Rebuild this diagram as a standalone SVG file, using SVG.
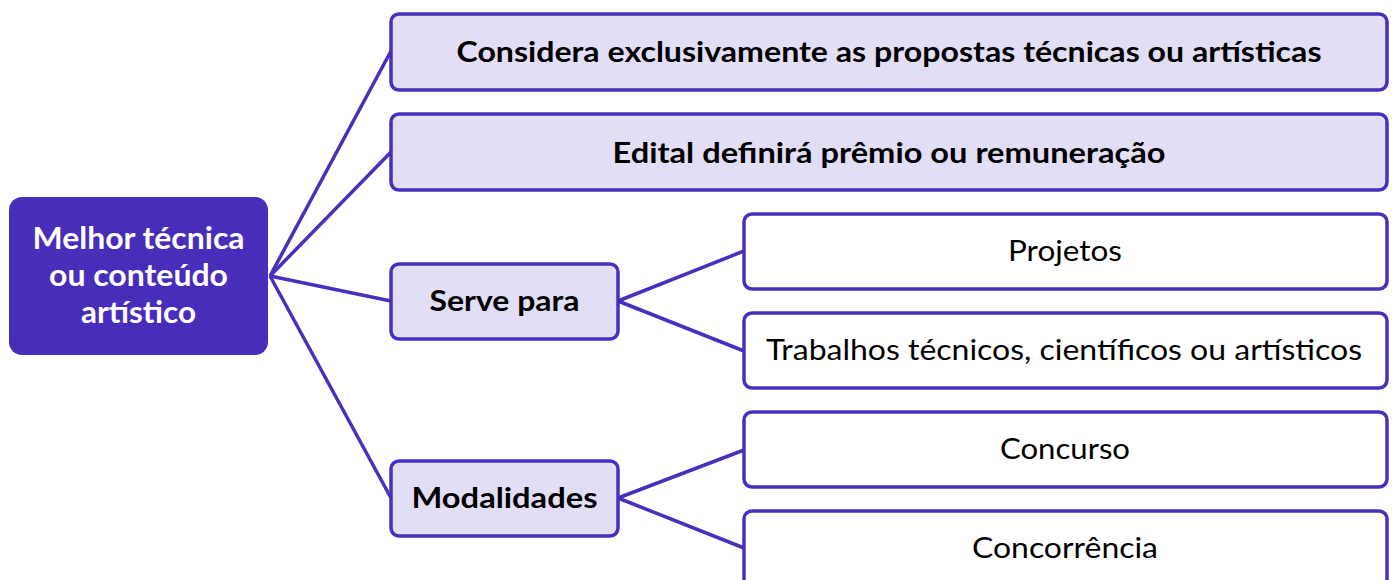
<svg xmlns="http://www.w3.org/2000/svg" width="1392" height="580" viewBox="0 0 1392 580">
<style>
.box{stroke:#4A2FBD;stroke-width:3.5;}
.lt{fill:#E2DEF6;}
.wh{fill:#FFFFFF;}
.edge{stroke:#4A2FBD;stroke-width:3.5;fill:none;}
text{font-family:Lato,"Open Sans","Liberation Sans",sans-serif;font-size:28px;text-anchor:middle;fill:#000;}
.b{font-weight:bold;}
.root{fill:#FFFFFF;font-weight:bold;font-size:30px;}
</style>
<rect width="1392" height="580" fill="#FFFFFF"/>
<g id="connectors">
<line class="edge" x1="270" y1="276" x2="391" y2="51"/>
<line class="edge" x1="270" y1="276" x2="391" y2="152"/>
<line class="edge" x1="270" y1="276" x2="391" y2="301"/>
<line class="edge" x1="270" y1="276" x2="391" y2="498"/>
<line class="edge" x1="618" y1="301" x2="744" y2="251"/>
<line class="edge" x1="618" y1="301" x2="744" y2="351"/>
<line class="edge" x1="618" y1="498" x2="744" y2="450"/>
<line class="edge" x1="618" y1="498" x2="744" y2="548"/>
</g>
<g id="root">
<rect x="9" y="197" width="259" height="158" rx="13" fill="#482DBB"/>
<text class="root" x="138.5" y="249" textLength="212" lengthAdjust="spacingAndGlyphs">Melhor técnica</text>
<text class="root" x="138.5" y="286" textLength="179" lengthAdjust="spacingAndGlyphs">ou conteúdo</text>
<text class="root" x="138.5" y="323" textLength="115" lengthAdjust="spacingAndGlyphs">artístico</text>
</g>
<g id="n1">
<rect class="box lt" x="391" y="14" width="996" height="76" rx="8"/>
<text class="b" x="889" y="62" textLength="865" lengthAdjust="spacingAndGlyphs">Considera exclusivamente as propostas técnicas ou artísticas</text>
</g>
<g id="n2">
<rect class="box lt" x="391" y="114" width="996" height="76" rx="8"/>
<text class="b" x="889" y="163" textLength="553" lengthAdjust="spacingAndGlyphs">Edital definirá prêmio ou remuneração</text>
</g>
<g id="n3">
<rect class="box lt" x="391" y="264" width="227" height="75" rx="8"/>
<text class="b" x="504.5" y="311" textLength="150" lengthAdjust="spacingAndGlyphs">Serve para</text>
</g>
<g id="n4">
<rect class="box wh" x="744" y="214" width="643" height="75" rx="8"/>
<text x="1065" y="261" textLength="114" lengthAdjust="spacingAndGlyphs">Projetos</text>
</g>
<g id="n5">
<rect class="box wh" x="744" y="313" width="643" height="75" rx="8"/>
<text x="1064" y="360" textLength="596" lengthAdjust="spacingAndGlyphs">Trabalhos técnicos, científicos ou artísticos</text>
</g>
<g id="n6">
<rect class="box lt" x="391" y="461" width="227" height="75" rx="8"/>
<text class="b" x="504.5" y="508" textLength="186" lengthAdjust="spacingAndGlyphs">Modalidades</text>
</g>
<g id="n7">
<rect class="box wh" x="744" y="412" width="643" height="75" rx="8"/>
<text x="1065" y="459" textLength="130" lengthAdjust="spacingAndGlyphs">Concurso</text>
</g>
<g id="n8">
<rect class="box wh" x="744" y="511" width="643" height="80" rx="8"/>
<text x="1065" y="558" textLength="186" lengthAdjust="spacingAndGlyphs">Concorrência</text>
</g>
</svg>
